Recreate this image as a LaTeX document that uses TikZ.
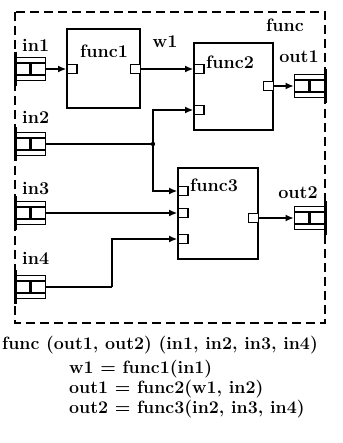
\documentclass[tikz,border=0pt]{standalone}
\usepackage{tikz}
\usetikzlibrary{arrows.meta,positioning,calc}

\begin{document}
\begin{tikzpicture}[
  x=1pt, y=-1pt,
  font=\bfseries\fontsize{18}{21}\selectfont,
  blk/.style={draw, line width=1.8pt, inner sep=0pt},
  port/.style={draw, line width=1.4pt, fill=white, minimum width=10pt, minimum height=9pt, inner sep=0pt},
  conn/.style={draw, line width=1.4pt, fill=white, minimum width=30pt, minimum height=23pt, inner sep=0pt,
    path picture={
      \draw[line width=1.4pt] ([yshift=-5.5pt]path picture bounding box.north west) rectangle ([yshift=5.5pt]path picture bounding box.south east);
      \draw[line width=3pt] ([yshift=6pt]path picture bounding box.center) -- ([yshift=-6pt]path picture bounding box.center);
    }},
  bar/.style={line width=3pt},
  lbl/.style={inner sep=0pt},
  wire/.style={line width=1.4pt},
  arr/.style={wire, -{Latex[length=8pt,width=7pt]}}
]
\useasboundingbox (0,0) rectangle (342,443);

% outer frame
\draw[line width=2.6pt, dash pattern=on 9pt off 5pt] (15,12) rectangle (325,323);
\node[lbl] (fname) at (285,25) {func};

% blocks
\node[blk, minimum width=73pt, minimum height=79pt] (f1) at (103.5,68.5) {};
\node[blk, minimum width=79pt, minimum height=87pt] (f2) at (233.5,86.5) {};
\node[blk, minimum width=80pt, minimum height=91pt] (f3) at (218,213.5) {};
\node[lbl] (t1) at (104,51) {func1};
\node[lbl, anchor=west] (t2) at (206,62) {func2};
\node[lbl, anchor=west] (t3) at (190,185) {func3};

% ports
\node[port, anchor=west] (f1i) at (f1.west |- 0,69) {};
\node[port, anchor=east] (f1o) at (f1.east |- 0,69) {};
\node[port, anchor=west] (f2i1) at (f2.west |- 0,69) {};
\node[port, anchor=west] (f2i2) at (f2.west |- 0,110) {};
\node[port, anchor=east] (f2o) at (f2.east |- 0,86) {};
\node[port, anchor=west] (f3i1) at (f3.west |- 0,191) {};
\node[port, anchor=west] (f3i2) at (f3.west |- 0,213) {};
\node[port, anchor=west] (f3i3) at (f3.west |- 0,239) {};
\node[port, anchor=east] (f3o) at (f3.east |- 0,218) {};

% terminals
\node[conn, anchor=west] (in1) at (15,69) {};
\node[conn, anchor=west] (in2) at (15,144) {};
\node[conn, anchor=west] (in3) at (15,213) {};
\node[conn, anchor=west] (in4) at (15,287) {};
\node[conn, anchor=east] (out1) at (325,86) {};
\node[conn, anchor=east] (out2) at (325,218) {};
\foreach \t in {in1,in2,in3,in4}
  \draw[bar] ([yshift=5pt]\t.north west) -- ([yshift=-5pt]\t.south west);
\foreach \t in {out1,out2}
  \draw[bar] ([yshift=5pt]\t.north east) -- ([yshift=-5pt]\t.south east);

\node[lbl, anchor=west] (lin1) at (22,45) {in1};
\node[lbl, anchor=west] (lin2) at (22,117) {in2};
\node[lbl, anchor=west] (lin3) at (22,188) {in3};
\node[lbl, anchor=west] (lin4) at (22,258) {in4};
\node[lbl] (lout1) at (299,57) {out1};
\node[lbl] (lout2) at (298,193) {out2};
\node[lbl] (lw1) at (165,42) {w1};

% wires
\coordinate (j2) at (153,144);
\coordinate (b4) at (112,287);
\draw[arr] (in1) -- (f1i);
\draw[arr] (f1o) -- (f2i1);
\draw[wire] (in2) -- (j2);
\fill (j2) circle (2.2pt);
\draw[arr] (j2) |- (f2i2);
\draw[arr] (j2) |- (f3i1);
\draw[arr] (in3) -- (f3i2);
\draw[wire] (in4) -- (b4);
\draw[arr] (b4) |- (f3i3);
\draw[arr] (f2o) -- (out1);
\draw[arr] (f3o) -- (out2);

% textual form
\node[lbl, anchor=west, font=\bfseries\fontsize{17.8}{20}\selectfont] (sig) at (2,345) {func (out1, out2) (in1, in2, in3, in4)};
\node[lbl, anchor=north west, align=left, font=\bfseries\fontsize{17.8}{20}\selectfont] (body) at (69,360)
  {w1 = func1(in1)\\ out1 = func2(w1, in2)\\ out2 = func3(in2, in3, in4)};
\end{tikzpicture}
\end{document}
